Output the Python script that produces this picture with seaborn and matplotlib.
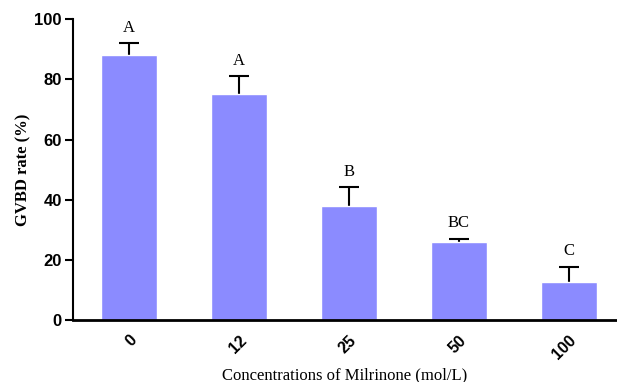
import pandas as pd
import matplotlib.pyplot as plt
import seaborn as sns

sns.set_theme(style="ticks", rc={"axes.edgecolor": "black", "xtick.color": "black",
                                 "ytick.color": "black", "text.color": "black",
                                 "axes.labelcolor": "black"})

concentrations = ["0", "12", "25", "50", "100"]
gvbd_rate = [88, 75, 38, 26, 12.5]
sem = [4, 6, 6.2, 1, 5.3]
letters = ["A", "A", "B", "BC", "C"]

df = pd.DataFrame({"conc": concentrations, "rate": gvbd_rate, "sem": sem})

fig = plt.figure(figsize=(6.17, 3.82), dpi=100)
ax = fig.add_axes([0.118, 0.162, 0.882, 0.788])

# error bars drawn behind the bars so only the upper half shows
ax.errorbar(range(len(df)), df["rate"], yerr=df["sem"], fmt="none",
            ecolor="black", elinewidth=1.5, capsize=7, capthick=1.5, zorder=1)

sns.barplot(data=df, x="conc", y="rate", color="#8B8BFF", saturation=1,
            width=0.51, ax=ax, errorbar=None, zorder=2)

for i, (v, e, t) in enumerate(zip(gvbd_rate, sem, letters)):
    ax.text(i, v + e + 2.5, t, ha="center", va="bottom",
            family="Liberation Serif", fontsize=12)

ax.set_ylim(0, 100)
ax.set_xlim(-0.51, 4.44)
ax.set_yticks([0, 20, 40, 60, 80, 100])
sns.despine(ax=ax, top=True, right=True)
ax.spines["left"].set_linewidth(1.5)
ax.spines["bottom"].set_linewidth(2)
ax.tick_params(axis="y", length=6, width=1.5, direction="out", pad=2)
ax.tick_params(axis="x", length=0, pad=9)

for lab in ax.get_yticklabels():
    lab.set_fontfamily("Liberation Sans")
    lab.set_fontweight("bold")
    lab.set_fontsize(12)
for lab in ax.get_xticklabels():
    lab.set_fontfamily("Liberation Sans")
    lab.set_fontweight("bold")
    lab.set_fontsize(11.5)
    lab.set_rotation(45)
    lab.set_ha("right")
    lab.set_rotation_mode("anchor")

ax.set_xlabel("Concentrations of Milrinone (mol/L)", family="Liberation Serif",
              fontsize=12)
ax.set_ylabel("GVBD rate (%)", family="Liberation Serif", fontweight="bold",
              fontsize=12)
ax.xaxis.set_label_coords(0.5, -0.156)
ax.yaxis.set_label_coords(-0.076, 0.5)

fig.savefig("out.png", dpi=100)
